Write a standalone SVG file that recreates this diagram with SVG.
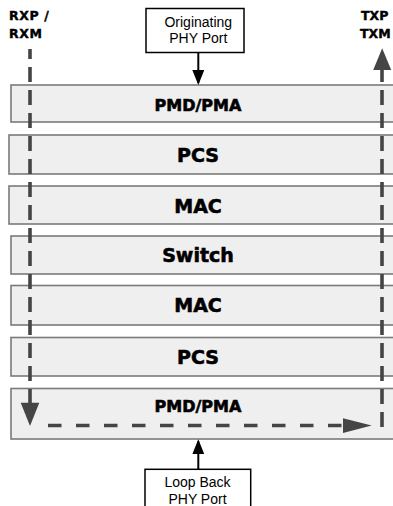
<svg xmlns="http://www.w3.org/2000/svg" width="393" height="506" viewBox="0 0 393 506">
<defs>
<style>
.layer{fill:#efefef;stroke:#7a7a7a;stroke-width:1.6}
.lt{font-family:"DejaVu Sans",Verdana,sans-serif;font-weight:bold;fill:#000;stroke:#000;stroke-width:0.6;text-anchor:middle}
.big{font-size:19px}
.small{font-size:16px}
.port{fill:#fff;stroke:#000;stroke-width:1.5}
.pt{font-family:"Liberation Sans",Arial,sans-serif;font-size:14px;fill:#000;text-anchor:middle}
.sig{font-family:"DejaVu Sans",Verdana,sans-serif;font-weight:bold;font-size:12.5px;fill:#000;stroke:#000;stroke-width:0.4;letter-spacing:0.6px}
.tx{letter-spacing:0}
.dashv{fill:none;stroke:#454545;stroke-width:3.6;stroke-dasharray:15 8}
.dashh{fill:none;stroke:#454545;stroke-width:3.6;stroke-dasharray:13.5 14.5}
.blk{stroke:#000;stroke-width:2;fill:none}
.head{fill:#454545}
</style>
<marker id="ah" markerUnits="userSpaceOnUse" viewBox="0 0 15 12" markerWidth="15" markerHeight="12" refX="13" refY="6" orient="auto">
<path d="M0,0 L15,6 L0,12 z" fill="#000"/>
</marker>
</defs>

<g id="layer-pmd-top"><rect class="layer" x="11" y="85" width="400" height="37"/><text class="lt small" x="198" y="110.7">PMD/PMA</text></g>
<g id="layer-pcs-top"><rect class="layer" x="9" y="135" width="400" height="39"/><text class="lt big" x="198" y="162.3">PCS</text></g>
<g id="layer-mac-top"><rect class="layer" x="9" y="186" width="400" height="38"/><text class="lt big" x="198" y="212.5">MAC</text></g>
<g id="layer-switch"><rect class="layer" x="11" y="236" width="400" height="38"/><text class="lt big" x="198" y="261.7">Switch</text></g>
<g id="layer-mac-bottom"><rect class="layer" x="11" y="285.5" width="400" height="39.5"/><text class="lt big" x="198" y="312">MAC</text></g>
<g id="layer-pcs-bottom"><rect class="layer" x="11" y="337.5" width="400" height="38.5"/><text class="lt big" x="198" y="363.5">PCS</text></g>
<g id="layer-pmd-bottom"><rect class="layer" x="11" y="388.5" width="400" height="50.5"/><text class="lt small" x="198" y="411.7">PMD/PMA</text></g>

<g id="port-originating"><rect class="port" x="146" y="8.5" width="98" height="44"/><text class="pt" x="198.3" y="27">Originating</text><text class="pt" x="198.3" y="43">PHY Port</text></g>
<g id="port-loopback"><rect class="port" x="145" y="469.3" width="105.7" height="50"/><text class="pt" x="197.5" y="487.3">Loop Back</text><text class="pt" x="197.5" y="503.5">PHY Port</text></g>

<g id="label-rx"><text class="sig" x="9" y="20">RXP /</text><text class="sig" x="9" y="37.7">RXM</text></g>
<g id="label-tx"><text class="sig tx" x="361" y="20">TXP</text><text class="sig tx" x="360" y="37.7">TXM</text></g>

<g id="connectors">
<line class="blk" x1="198.3" y1="52.7" x2="198.3" y2="83" marker-end="url(#ah)"/>
<line class="blk" x1="198.3" y1="469.3" x2="198.3" y2="441.3" marker-end="url(#ah)"/>
<line class="dashv" x1="30" y1="49" x2="30" y2="404" stroke-dashoffset="5"/>
<polygon class="head" points="20.7,402.7 39.3,402.7 30,426"/>
<line class="dashh" x1="48" y1="425.5" x2="343" y2="425.5"/>
<polygon class="head" points="343,418.2 343,433 371.7,425.5"/>
<line class="dashv" x1="382" y1="67" x2="382" y2="427"/>
<polygon class="head" points="373.2,70 391.2,70 382.2,48.3"/>
</g>
</svg>
